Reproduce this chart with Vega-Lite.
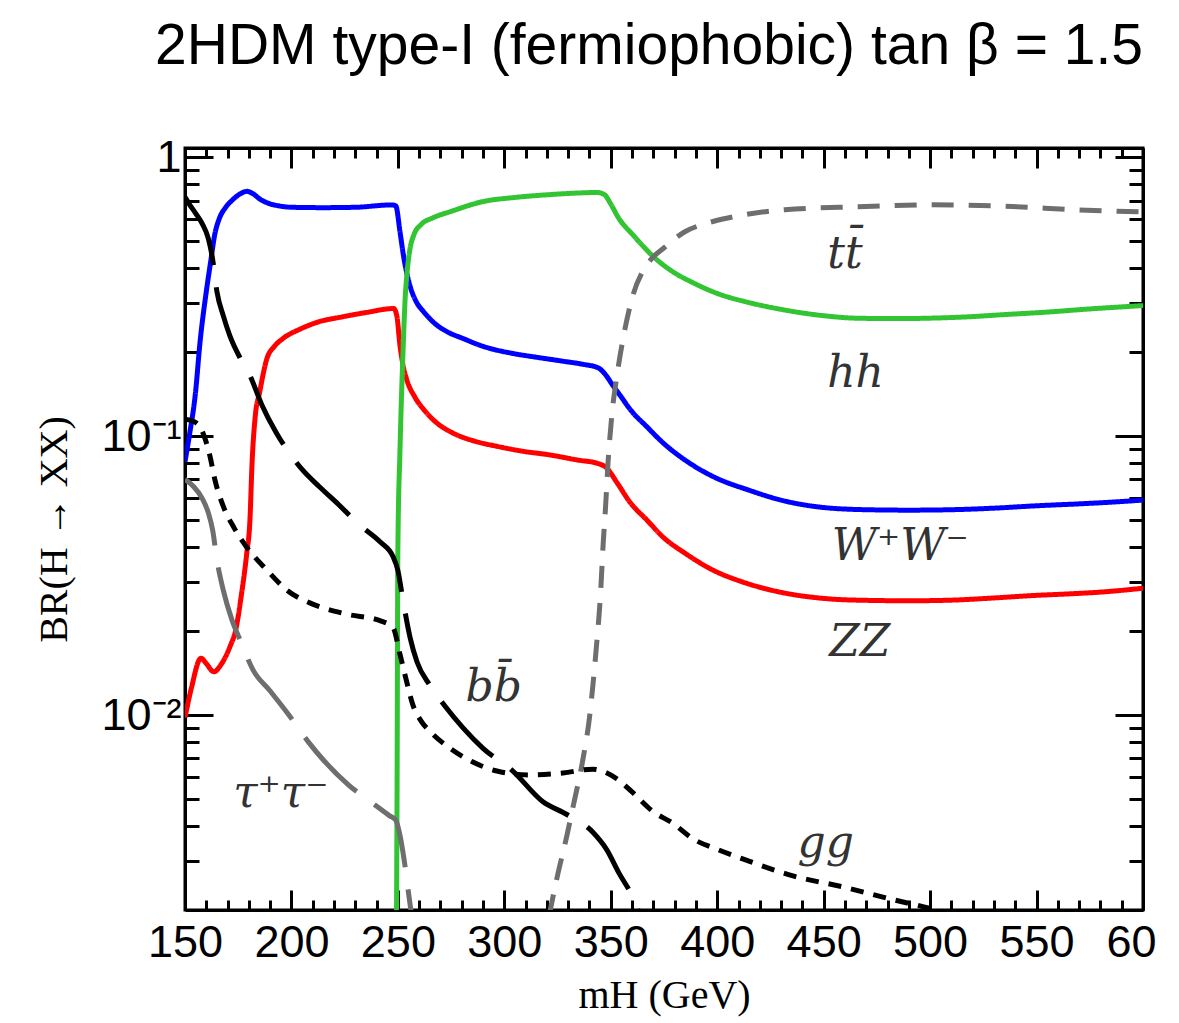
{
  "$schema": "https://vega.github.io/schema/vega-lite/v6.json",
  "width": 958,
  "height": 762,
  "autosize": {"type": "none"},
  "padding": {"left": 185, "top": 148, "right": 36, "bottom": 113},
  "background": "white",
  "title": {
    "text": "2HDM type-I (fermiophobic) tan β = 1.5",
    "anchor": "end",
    "frame": "group",
    "font": "Liberation Sans",
    "fontSize": 57,
    "fontWeight": "normal",
    "color": "black",
    "offset": 59
  },
  "config": {
    "view": {"stroke": "black", "strokeWidth": 3},
    "axis": {
      "domainColor": "black",
      "domainWidth": 3,
      "tickColor": "black",
      "tickWidth": 3,
      "grid": false,
      "labelFont": "Liberation Sans",
      "labelFontSize": 45,
      "labelColor": "black",
      "labelOverlap": false,
      "labelBound": false,
      "labelFlush": false,
      "titleFont": "Liberation Serif",
      "titleFontSize": 40,
      "titleFontWeight": "normal",
      "titleColor": "black"
    }
  },
  "datasets": {
    "curves": [
      {"ch": "WW", "m": 150, "br": 0.081}, {"ch": "WW", "m": 152, "br": 0.1}, {"ch": "WW", "m": 155, "br": 0.145}, {"ch": "WW", "m": 157, "br": 0.215}, {"ch": "WW", "m": 160, "br": 0.33}, {"ch": "WW", "m": 162, "br": 0.42}, {"ch": "WW", "m": 164, "br": 0.53}, {"ch": "WW", "m": 166, "br": 0.6}, {"ch": "WW", "m": 169, "br": 0.66}, {"ch": "WW", "m": 172, "br": 0.7}, {"ch": "WW", "m": 176, "br": 0.74}, {"ch": "WW", "m": 179, "br": 0.755}, {"ch": "WW", "m": 182, "br": 0.74}, {"ch": "WW", "m": 185, "br": 0.71}, {"ch": "WW", "m": 189, "br": 0.685}, {"ch": "WW", "m": 194, "br": 0.67}, {"ch": "WW", "m": 200, "br": 0.662}, {"ch": "WW", "m": 215, "br": 0.66}, {"ch": "WW", "m": 230, "br": 0.662}, {"ch": "WW", "m": 247, "br": 0.675}, {"ch": "WW", "m": 249, "br": 0.67}, {"ch": "WW", "m": 251, "br": 0.54}, {"ch": "WW", "m": 252.5, "br": 0.45}, {"ch": "WW", "m": 254, "br": 0.39}, {"ch": "WW", "m": 256, "br": 0.34}, {"ch": "WW", "m": 259, "br": 0.3}, {"ch": "WW", "m": 262, "br": 0.28}, {"ch": "WW", "m": 267, "br": 0.255}, {"ch": "WW", "m": 274, "br": 0.235}, {"ch": "WW", "m": 280, "br": 0.225}, {"ch": "WW", "m": 290, "br": 0.21}, {"ch": "WW", "m": 304, "br": 0.198}, {"ch": "WW", "m": 315, "br": 0.192}, {"ch": "WW", "m": 327, "br": 0.186}, {"ch": "WW", "m": 337, "br": 0.181}, {"ch": "WW", "m": 344, "br": 0.176}, {"ch": "WW", "m": 347, "br": 0.168}, {"ch": "WW", "m": 351, "br": 0.152}, {"ch": "WW", "m": 355, "br": 0.138}, {"ch": "WW", "m": 359, "br": 0.125}, {"ch": "WW", "m": 367, "br": 0.108}, {"ch": "WW", "m": 375, "br": 0.094}, {"ch": "WW", "m": 385, "br": 0.082}, {"ch": "WW", "m": 398, "br": 0.0717}, {"ch": "WW", "m": 415, "br": 0.064}, {"ch": "WW", "m": 430, "br": 0.059}, {"ch": "WW", "m": 450, "br": 0.0555}, {"ch": "WW", "m": 470, "br": 0.0545}, {"ch": "WW", "m": 490, "br": 0.0543}, {"ch": "WW", "m": 510, "br": 0.0545}, {"ch": "WW", "m": 530, "br": 0.0552}, {"ch": "WW", "m": 550, "br": 0.0563}, {"ch": "WW", "m": 570, "br": 0.0572}, {"ch": "WW", "m": 585, "br": 0.058}, {"ch": "WW", "m": 600, "br": 0.059},

      {"ch": "ZZ", "m": 150, "br": 0.0098}, {"ch": "ZZ", "m": 153, "br": 0.0125}, {"ch": "ZZ", "m": 157.5, "br": 0.016}, {"ch": "ZZ", "m": 160, "br": 0.0153}, {"ch": "ZZ", "m": 163.5, "br": 0.0143}, {"ch": "ZZ", "m": 167, "br": 0.0152}, {"ch": "ZZ", "m": 171, "br": 0.0175}, {"ch": "ZZ", "m": 174, "br": 0.0205}, {"ch": "ZZ", "m": 176.5, "br": 0.027}, {"ch": "ZZ", "m": 179, "br": 0.038}, {"ch": "ZZ", "m": 180.5, "br": 0.05}, {"ch": "ZZ", "m": 181.5, "br": 0.08}, {"ch": "ZZ", "m": 183, "br": 0.118}, {"ch": "ZZ", "m": 185, "br": 0.143}, {"ch": "ZZ", "m": 188.5, "br": 0.19}, {"ch": "ZZ", "m": 192, "br": 0.21}, {"ch": "ZZ", "m": 196, "br": 0.224}, {"ch": "ZZ", "m": 204, "br": 0.242}, {"ch": "ZZ", "m": 212, "br": 0.256}, {"ch": "ZZ", "m": 224, "br": 0.268}, {"ch": "ZZ", "m": 235.5, "br": 0.278}, {"ch": "ZZ", "m": 248, "br": 0.287}, {"ch": "ZZ", "m": 249.5, "br": 0.27}, {"ch": "ZZ", "m": 251, "br": 0.211}, {"ch": "ZZ", "m": 252.4, "br": 0.18}, {"ch": "ZZ", "m": 254, "br": 0.161}, {"ch": "ZZ", "m": 258, "br": 0.138}, {"ch": "ZZ", "m": 262, "br": 0.125}, {"ch": "ZZ", "m": 268, "br": 0.112}, {"ch": "ZZ", "m": 276, "br": 0.1025}, {"ch": "ZZ", "m": 286, "br": 0.096}, {"ch": "ZZ", "m": 296.5, "br": 0.092}, {"ch": "ZZ", "m": 310, "br": 0.088}, {"ch": "ZZ", "m": 320, "br": 0.086}, {"ch": "ZZ", "m": 335, "br": 0.082}, {"ch": "ZZ", "m": 343.5, "br": 0.08}, {"ch": "ZZ", "m": 348, "br": 0.077}, {"ch": "ZZ", "m": 353, "br": 0.068}, {"ch": "ZZ", "m": 359, "br": 0.058}, {"ch": "ZZ", "m": 367, "br": 0.05}, {"ch": "ZZ", "m": 374.5, "br": 0.0435}, {"ch": "ZZ", "m": 385, "br": 0.038}, {"ch": "ZZ", "m": 398, "br": 0.0331}, {"ch": "ZZ", "m": 412, "br": 0.03}, {"ch": "ZZ", "m": 429.5, "br": 0.0276}, {"ch": "ZZ", "m": 450, "br": 0.0262}, {"ch": "ZZ", "m": 468.5, "br": 0.0258}, {"ch": "ZZ", "m": 490, "br": 0.0257}, {"ch": "ZZ", "m": 508, "br": 0.0258}, {"ch": "ZZ", "m": 530, "br": 0.0263}, {"ch": "ZZ", "m": 547, "br": 0.0268}, {"ch": "ZZ", "m": 565, "br": 0.0272}, {"ch": "ZZ", "m": 580, "br": 0.0276}, {"ch": "ZZ", "m": 600, "br": 0.0285},

      {"ch": "hh", "m": 249.3, "br": 0.0015}, {"ch": "hh", "m": 249.6, "br": 0.005}, {"ch": "hh", "m": 250, "br": 0.04}, {"ch": "hh", "m": 251, "br": 0.09}, {"ch": "hh", "m": 252.5, "br": 0.21}, {"ch": "hh", "m": 253.3, "br": 0.3}, {"ch": "hh", "m": 254.5, "br": 0.4}, {"ch": "hh", "m": 255.7, "br": 0.47}, {"ch": "hh", "m": 257.5, "br": 0.527}, {"ch": "hh", "m": 261, "br": 0.575}, {"ch": "hh", "m": 266.5, "br": 0.607}, {"ch": "hh", "m": 275, "br": 0.64}, {"ch": "hh", "m": 290, "br": 0.694}, {"ch": "hh", "m": 305, "br": 0.718}, {"ch": "hh", "m": 321.4, "br": 0.735}, {"ch": "hh", "m": 335, "br": 0.745}, {"ch": "hh", "m": 343.5, "br": 0.748}, {"ch": "hh", "m": 347, "br": 0.735}, {"ch": "hh", "m": 350, "br": 0.68}, {"ch": "hh", "m": 353.6, "br": 0.607}, {"ch": "hh", "m": 360.4, "br": 0.527}, {"ch": "hh", "m": 370.8, "br": 0.435}, {"ch": "hh", "m": 380, "br": 0.385}, {"ch": "hh", "m": 388, "br": 0.357}, {"ch": "hh", "m": 400, "br": 0.325}, {"ch": "hh", "m": 414.5, "br": 0.302}, {"ch": "hh", "m": 430, "br": 0.285}, {"ch": "hh", "m": 449, "br": 0.271}, {"ch": "hh", "m": 465, "br": 0.265}, {"ch": "hh", "m": 483.5, "br": 0.264}, {"ch": "hh", "m": 500, "br": 0.265}, {"ch": "hh", "m": 518, "br": 0.268}, {"ch": "hh", "m": 535, "br": 0.273}, {"ch": "hh", "m": 553, "br": 0.278}, {"ch": "hh", "m": 575, "br": 0.286}, {"ch": "hh", "m": 600, "br": 0.294},

      {"ch": "tt", "m": 321, "br": 0.0019}, {"ch": "tt", "m": 324.7, "br": 0.0026}, {"ch": "tt", "m": 329.4, "br": 0.0037}, {"ch": "tt", "m": 332.3, "br": 0.0047}, {"ch": "tt", "m": 337, "br": 0.007}, {"ch": "tt", "m": 340, "br": 0.0098}, {"ch": "tt", "m": 341.6, "br": 0.0128}, {"ch": "tt", "m": 343.5, "br": 0.0185}, {"ch": "tt", "m": 345, "br": 0.0258}, {"ch": "tt", "m": 346.5, "br": 0.042}, {"ch": "tt", "m": 347.5, "br": 0.055}, {"ch": "tt", "m": 348.7, "br": 0.08}, {"ch": "tt", "m": 350.6, "br": 0.121}, {"ch": "tt", "m": 352.7, "br": 0.161}, {"ch": "tt", "m": 355.8, "br": 0.224}, {"ch": "tt", "m": 360.4, "br": 0.32}, {"ch": "tt", "m": 365, "br": 0.39}, {"ch": "tt", "m": 369.4, "br": 0.435}, {"ch": "tt", "m": 374.5, "br": 0.47}, {"ch": "tt", "m": 384.8, "br": 0.541}, {"ch": "tt", "m": 395, "br": 0.58}, {"ch": "tt", "m": 405.5, "br": 0.607}, {"ch": "tt", "m": 431.8, "br": 0.649}, {"ch": "tt", "m": 466, "br": 0.665}, {"ch": "tt", "m": 501, "br": 0.676}, {"ch": "tt", "m": 535, "br": 0.668}, {"ch": "tt", "m": 570, "br": 0.648}, {"ch": "tt", "m": 600, "br": 0.637},

      {"ch": "bb", "m": 150, "br": 0.72}, {"ch": "bb", "m": 152, "br": 0.68}, {"ch": "bb", "m": 155, "br": 0.63}, {"ch": "bb", "m": 158, "br": 0.58}, {"ch": "bb", "m": 161, "br": 0.51}, {"ch": "bb", "m": 163, "br": 0.43}, {"ch": "bb", "m": 165, "br": 0.33}, {"ch": "bb", "m": 168, "br": 0.27}, {"ch": "bb", "m": 171, "br": 0.23}, {"ch": "bb", "m": 176, "br": 0.19}, {"ch": "bb", "m": 180.5, "br": 0.165}, {"ch": "bb", "m": 186, "br": 0.13}, {"ch": "bb", "m": 193, "br": 0.1025}, {"ch": "bb", "m": 200, "br": 0.085}, {"ch": "bb", "m": 205, "br": 0.076}, {"ch": "bb", "m": 213, "br": 0.066}, {"ch": "bb", "m": 222, "br": 0.057}, {"ch": "bb", "m": 232, "br": 0.048}, {"ch": "bb", "m": 241.6, "br": 0.0418}, {"ch": "bb", "m": 247.7, "br": 0.037}, {"ch": "bb", "m": 250, "br": 0.033}, {"ch": "bb", "m": 252.4, "br": 0.0258}, {"ch": "bb", "m": 255.7, "br": 0.019}, {"ch": "bb", "m": 259, "br": 0.0155}, {"ch": "bb", "m": 265, "br": 0.0128}, {"ch": "bb", "m": 272, "br": 0.0108}, {"ch": "bb", "m": 280.6, "br": 0.009}, {"ch": "bb", "m": 290, "br": 0.0076}, {"ch": "bb", "m": 304, "br": 0.0063}, {"ch": "bb", "m": 318, "br": 0.0049}, {"ch": "bb", "m": 329.4, "br": 0.0044}, {"ch": "bb", "m": 341.6, "br": 0.0038}, {"ch": "bb", "m": 348, "br": 0.0033}, {"ch": "bb", "m": 354, "br": 0.0027}, {"ch": "bb", "m": 360, "br": 0.00225}, {"ch": "bb", "m": 364, "br": 0.0019},

      {"ch": "gg", "m": 150, "br": 0.115}, {"ch": "gg", "m": 154, "br": 0.113}, {"ch": "gg", "m": 157, "br": 0.108}, {"ch": "gg", "m": 159, "br": 0.1}, {"ch": "gg", "m": 161.7, "br": 0.085}, {"ch": "gg", "m": 164, "br": 0.07}, {"ch": "gg", "m": 168, "br": 0.056}, {"ch": "gg", "m": 173, "br": 0.047}, {"ch": "gg", "m": 179, "br": 0.04}, {"ch": "gg", "m": 188.5, "br": 0.0331}, {"ch": "gg", "m": 198, "br": 0.028}, {"ch": "gg", "m": 210, "br": 0.025}, {"ch": "gg", "m": 226, "br": 0.023}, {"ch": "gg", "m": 241.6, "br": 0.0218}, {"ch": "gg", "m": 247.7, "br": 0.0206}, {"ch": "gg", "m": 251, "br": 0.0165}, {"ch": "gg", "m": 254, "br": 0.0133}, {"ch": "gg", "m": 257, "br": 0.0109}, {"ch": "gg", "m": 261, "br": 0.0095}, {"ch": "gg", "m": 265, "br": 0.00875}, {"ch": "gg", "m": 274.5, "br": 0.0076}, {"ch": "gg", "m": 285, "br": 0.0068}, {"ch": "gg", "m": 296.5, "br": 0.0063}, {"ch": "gg", "m": 312, "br": 0.0061}, {"ch": "gg", "m": 327.5, "br": 0.0062}, {"ch": "gg", "m": 341.6, "br": 0.0064}, {"ch": "gg", "m": 346, "br": 0.0063}, {"ch": "gg", "m": 353, "br": 0.0059}, {"ch": "gg", "m": 360, "br": 0.0053}, {"ch": "gg", "m": 370, "br": 0.0045}, {"ch": "gg", "m": 379, "br": 0.0041}, {"ch": "gg", "m": 388.6, "br": 0.0036}, {"ch": "gg", "m": 400, "br": 0.0033}, {"ch": "gg", "m": 412, "br": 0.00305}, {"ch": "gg", "m": 435.6, "br": 0.00265}, {"ch": "gg", "m": 459, "br": 0.00242}, {"ch": "gg", "m": 482.5, "br": 0.00218}, {"ch": "gg", "m": 498.5, "br": 0.00204}, {"ch": "gg", "m": 505, "br": 0.00198},

      {"ch": "tautau", "m": 150, "br": 0.07}, {"ch": "tautau", "m": 154, "br": 0.066}, {"ch": "tautau", "m": 158, "br": 0.06}, {"ch": "tautau", "m": 161, "br": 0.053}, {"ch": "tautau", "m": 163, "br": 0.046}, {"ch": "tautau", "m": 165, "br": 0.036}, {"ch": "tautau", "m": 168, "br": 0.028}, {"ch": "tautau", "m": 172, "br": 0.022}, {"ch": "tautau", "m": 176, "br": 0.0185}, {"ch": "tautau", "m": 182, "br": 0.0145}, {"ch": "tautau", "m": 190, "br": 0.0122}, {"ch": "tautau", "m": 198, "br": 0.0102}, {"ch": "tautau", "m": 208, "br": 0.008}, {"ch": "tautau", "m": 215, "br": 0.0069}, {"ch": "tautau", "m": 227, "br": 0.0056}, {"ch": "tautau", "m": 237, "br": 0.0049}, {"ch": "tautau", "m": 246, "br": 0.00436}, {"ch": "tautau", "m": 249, "br": 0.0042}, {"ch": "tautau", "m": 251, "br": 0.0037}, {"ch": "tautau", "m": 253, "br": 0.003}, {"ch": "tautau", "m": 255, "br": 0.0023}, {"ch": "tautau", "m": 256.5, "br": 0.0019}
    ],
    "labels": [
      {"m": 460, "br": 0.447, "t": "tt̄"},
      {"m": 465, "br": 0.1675, "t": "hh"},
      {"m": 486, "br": 0.04, "t": "W⁺W⁻"},
      {"m": 467, "br": 0.0182, "t": "ZZ"},
      {"m": 295, "br": 0.0125, "t": "bb̄"},
      {"m": 451, "br": 0.00345, "t": "gg"},
      {"m": 195, "br": 0.00523, "t": "τ⁺τ⁻"}
    ]
  },
  "layer": [
    {
      "data": {"name": "curves"},
      "mark": {"type": "line", "clip": true, "strokeWidth": 5, "strokeCap": "butt", "interpolate": "monotone"},
      "encoding": {
        "x": {
          "field": "m", "type": "quantitative",
          "scale": {"domain": [150, 600], "nice": false, "zero": false},
          "axis": {
            "orient": "bottom",
            "title": "mH (GeV)",
            "titlePadding": 0,
            "values": [150,160,170,180,190,200,210,220,230,240,250,260,270,280,290,300,310,320,330,340,350,360,370,380,390,400,410,420,430,440,450,460,470,480,490,500,510,520,530,540,550,560,570,580,590,600],
            "labelExpr": "datum.value === 600 ? '60' : (datum.value % 50 === 0 ? datum.label : '')",
            "labelOffset": {"condition": {"test": "datum.value === 600", "value": -12}, "value": 0},
            "tickSize": {"condition": {"test": "datum.value % 50 === 0", "value": -20}, "value": -10},
            "labelPadding": 30
          }
        },
        "y": {
          "field": "br", "type": "quantitative",
          "scale": {"type": "log", "domain": [0.002, 1.08], "nice": false},
          "axis": {
            "orient": "left",
            "title": "BR(H → XX)",
            "titlePadding": 26,
            "values": [0.003,0.004,0.005,0.006,0.007,0.008,0.009,0.01,0.02,0.03,0.04,0.05,0.06,0.07,0.08,0.09,0.1,0.2,0.3,0.4,0.5,0.6,0.7,0.8,0.9,1],
            "labelExpr": "datum.value === 1 ? '1' : (datum.value === 0.1 ? '10⁻¹' : (datum.value === 0.01 ? '10⁻²' : ''))",
            "tickSize": {"condition": {"test": "datum.value === 1 || datum.value === 0.1 || datum.value === 0.01", "value": -28}, "value": -14},
            "labelPadding": 32
          }
        },
        "color": {
          "field": "ch", "type": "nominal",
          "scale": {"domain": ["tt", "hh", "WW", "ZZ", "bb", "gg", "tautau"], "range": ["#6e6e6e", "#33c433", "#0000ff", "#ff0000", "#000000", "#000000", "#6e6e6e"]},
          "legend": null
        },
        "strokeDash": {
          "field": "ch", "type": "nominal",
          "scale": {"domain": ["tt", "hh", "WW", "ZZ", "bb", "gg", "tautau"], "range": [[22, 15], [1, 0], [1, 0], [1, 0], [75, 22], [13, 10], [75, 22]]},
          "legend": null
        }
      }
    },
    {
      "data": {"name": "labels"},
      "mark": {"type": "text", "font": "DejaVu Serif", "fontStyle": "italic", "fontSize": 44, "color": "#333333", "align": "center", "baseline": "middle"},
      "encoding": {
        "x": {
          "field": "m", "type": "quantitative",
          "scale": {"domain": [150, 600], "nice": false, "zero": false},
          "axis": {
            "orient": "top", "title": null, "labels": false,
            "values": [150,160,170,180,190,200,210,220,230,240,250,260,270,280,290,300,310,320,330,340,350,360,370,380,390,400,410,420,430,440,450,460,470,480,490,500,510,520,530,540,550,560,570,580,590,600],
            "tickSize": {"condition": {"test": "datum.value % 50 === 0", "value": -20}, "value": -10}
          }
        },
        "y": {
          "field": "br", "type": "quantitative",
          "scale": {"type": "log", "domain": [0.002, 1.08], "nice": false},
          "axis": {
            "orient": "right", "title": null, "labels": false,
            "values": [0.003,0.004,0.005,0.006,0.007,0.008,0.009,0.01,0.02,0.03,0.04,0.05,0.06,0.07,0.08,0.09,0.1,0.2,0.3,0.4,0.5,0.6,0.7,0.8,0.9,1],
            "tickSize": {"condition": {"test": "datum.value === 1 || datum.value === 0.1 || datum.value === 0.01", "value": -28}, "value": -14}
          }
        },
        "text": {"field": "t", "type": "nominal"}
      }
    }
  ],
  "resolve": {"axis": {"x": "independent", "y": "independent"}}
}
